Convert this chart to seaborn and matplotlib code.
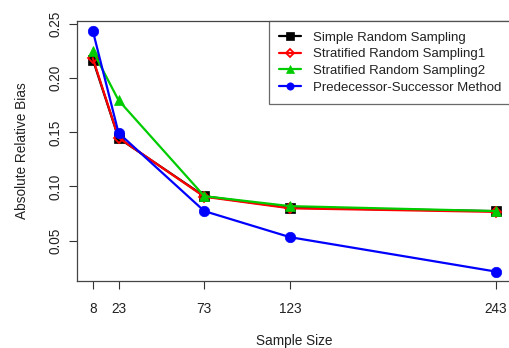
import matplotlib
matplotlib.use("Agg")
import matplotlib.pyplot as plt
import seaborn as sns
import pandas as pd

sample_sizes = [8, 23, 73, 123, 243]
srs = [0.2173, 0.1447, 0.0910, 0.0803, 0.0772]
strat1 = [0.2185, 0.1450, 0.0905, 0.0798, 0.0765]
strat2 = [0.2253, 0.1796, 0.0910, 0.0818, 0.0772]
pred_succ = [0.2438, 0.1494, 0.0772, 0.0531, 0.0213]

series_names = ["Simple Random Sampling", "Stratified Random Sampling1",
                "Stratified Random Sampling2", "Predecessor-Successor Method"]
series_values = [srs, strat1, strat2, pred_succ]
colors = ["#000000", "#ff0000", "#00cc00", "#0000ff"]
markers = ["s", "D", "^", "o"]

rows = []
for name, vals in zip(series_names, series_values):
    for x, y in zip(sample_sizes, vals):
        rows.append({"Sample Size": x, "Bias": y, "Method": name})
df = pd.DataFrame(rows)

sns.set_theme(style="white")
plt.rcParams['font.family'] = ['Liberation Sans', 'DejaVu Sans']

fig = plt.figure(figsize=(5.09, 3.48), dpi=100)
ax = fig.add_axes([76.7 / 509, 67 / 348, (512 - 76.7) / 509, 260 / 348])

for name, c, m in zip(series_names, colors, markers):
    sub = df[df["Method"] == name]
    mfc = "none" if m == "D" else c
    ms = 5.5 if m == "D" else 7.5
    sns.lineplot(data=sub, x="Sample Size", y="Bias", ax=ax, color=c,
                 marker=m, markersize=ms, markerfacecolor=mfc,
                 markeredgecolor=c, markeredgewidth=1.3 if m == "D" else 0.5,
                 linewidth=1.6, label=name, legend=False)

ax.set_xlim(-1.4, 252.4)
ax.set_ylim(0.0126, 0.2529)
ax.set_xticks(sample_sizes)
ax.set_xticklabels([str(s) for s in sample_sizes])
ax.set_yticks([0.05, 0.10, 0.15, 0.20, 0.25])
ax.set_yticklabels(["0.05", "0.10", "0.15", "0.20", "0.25"], rotation=90, va="center")

ax.tick_params(axis="both", which="both", direction="out", length=6, width=0.8,
               color="#333333", labelsize=9.8, labelcolor="#222222",
               bottom=True, left=True)
ax.tick_params(axis="x", pad=9)
ax.tick_params(axis="y", pad=4)
for s in ax.spines.values():
    s.set_color("#444444")
    s.set_linewidth(0.9)

ax.set_xlabel("Sample Size", fontsize=9.8, color="#222222", labelpad=13.3)
ax.set_ylabel("Absolute Relative Bias", fontsize=9.8, color="#222222", labelpad=14)

handles, labels = ax.get_legend_handles_labels()
leg = ax.legend(handles, labels, loc="upper right", bbox_to_anchor=(1.0, 1.0),
                borderaxespad=0, fontsize=9.5, frameon=True, fancybox=False,
                edgecolor="#444444", handlelength=1.65, handletextpad=0.9,
                labelspacing=0.33, borderpad=0.8, markerscale=0.7)
leg.get_frame().set_linewidth(0.9)
for t in leg.get_texts():
    t.set_color("#222222")

fig.savefig("out.png", dpi=100)
